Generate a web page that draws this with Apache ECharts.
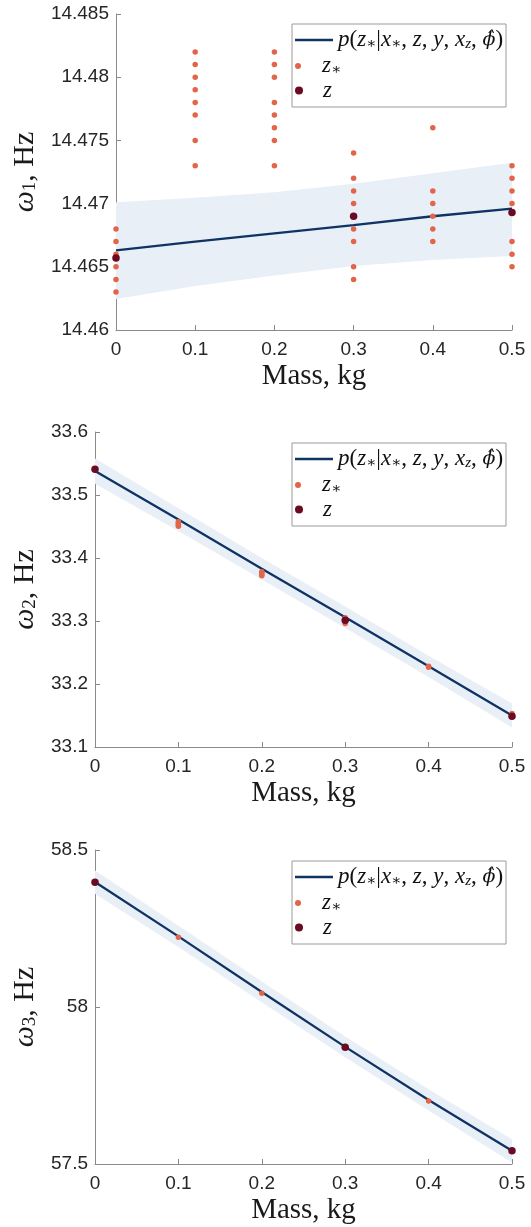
<!DOCTYPE html>
<html>
<head>
<meta charset="utf-8">
<script src="https://cdn.jsdelivr.net/npm/echarts@6/dist/echarts.min.js"></script>
<style>
html, body { margin: 0; padding: 0; background: #fff; }
#chart { width: 531px; height: 1227px; }
</style>
</head>
<body>
<div id="chart"></div>
<script>
// Added mass (kg) at which each natural frequency was evaluated
const massTicks = [0, 0.1, 0.2, 0.3, 0.4, 0.5];
const measuredMass = [0, 0.3, 0.5];

// Mode 1: predictive mean, confidence band, sampled and measured frequencies
const w1Range = [14.46, 14.485];
const w1Step = 0.005;
const w1Mean  = [14.4663, 14.4670, 14.46765, 14.4683, 14.4690, 14.4696];
const w1Upper = [14.4701, 14.47047, 14.4709, 14.47158, 14.4724, 14.47324];
const w1Lower = [14.46245, 14.46348, 14.46432, 14.46506, 14.46554, 14.46585];
const w1Samples = [
  [14.468, 14.467, 14.466, 14.465, 14.464, 14.463],
  [14.482, 14.481, 14.480, 14.479, 14.478, 14.477, 14.475, 14.473],
  [14.482, 14.481, 14.480, 14.478, 14.477, 14.476, 14.475, 14.473],
  [14.474, 14.472, 14.471, 14.470, 14.468, 14.467, 14.465, 14.464],
  [14.476, 14.471, 14.470, 14.469, 14.468, 14.467],
  [14.473, 14.472, 14.471, 14.470, 14.467, 14.466, 14.465]
];
const w1Measured = [14.4657, 14.4690, 14.4693];

// Mode 2
const w2Range = [33.1, 33.6];
const w2Step = 0.1;
const w2Mean  = [33.538, 33.461, 33.383, 33.306, 33.228, 33.150];
const w2Upper = [33.558, 33.479, 33.400, 33.323, 33.245, 33.169];
const w2Lower = [33.518, 33.443, 33.366, 33.289, 33.211, 33.131];
const w2Samples = [
  [],
  [33.4505, 33.452, 33.454, 33.456, 33.4575],
  [33.372, 33.374, 33.376, 33.378],
  [33.296, 33.299, 33.302, 33.305],
  [33.2265, 33.228],
  [33.150, 33.153]
];
const w2Measured = [33.541, 33.301, 33.149];

// Mode 3
const w3Range = [57.5, 58.5];
const w3Step = 0.5;
const w3Mean  = [58.398, 58.225, 58.048, 57.873, 57.704, 57.542];
const w3Upper = [58.435, 58.259, 58.081, 57.906, 57.738, 57.579];
const w3Lower = [58.361, 58.191, 58.015, 57.840, 57.670, 57.505];
const w3Samples = [[], [58.222], [58.044], [], [57.701], []];
const w3Measured = [58.397, 57.872, 57.542];

const SERIF = '"Liberation Serif", "DejaVu Serif", serif';
const SANS = '"Liberation Sans", Arial, sans-serif';
const C_LINE = '#0f3363';
const C_BAND = '#e8eff7';
const C_SAMPLE = '#e2654a';
const C_MEAS = '#6b0a20';
const C_AXIS = '#8a8a8a';
const C_TEXT = '#262626';

const panels = [
  { mean: w1Mean, upper: w1Upper, lower: w1Lower, samples: w1Samples, measured: w1Measured,
    range: w1Range, step: w1Step, dec: 3, sub: '1',
    grid: { left: 116, top: 14, width: 396, height: 316 }, yNameGap: 73, boxTop: 24 },
  { mean: w2Mean, upper: w2Upper, lower: w2Lower, samples: w2Samples, measured: w2Measured,
    range: w2Range, step: w2Step, dec: 1, sub: '2',
    grid: { left: 95, top: 432, width: 417, height: 315 }, yNameGap: 52, boxTop: 443 },
  { mean: w3Mean, upper: w3Upper, lower: w3Lower, samples: w3Samples, measured: w3Measured,
    range: w3Range, step: w3Step, dec: 1, sub: '3',
    grid: { left: 95, top: 850, width: 417, height: 314 }, yNameGap: 52, boxTop: 861 }
];

const mathRich = {
  i: { fontFamily: SERIF, fontStyle: 'italic', fontSize: 23, color: '#111', lineHeight: 26 },
  n: { fontFamily: SERIF, fontSize: 23, color: '#111', lineHeight: 26 },
  h: { fontFamily: '"DejaVu Serif", serif', fontStyle: 'italic', fontSize: 19, color: '#111', lineHeight: 26 },
  s: { fontFamily: SERIF, fontStyle: 'italic', fontSize: 15, color: '#111', padding: [9, 0, 0, 0], lineHeight: 16 }
};
const legendText = {
  predictive: '{i|p}{n|(}{i|z}{s|∗}{n||}{i|x}{s|∗}{n|, }{i|z}{n|, }{i|y}{n|, }{i|x}{s|z}{n|, }{h|ϕ̂}{n|)}',
  samples: '{i|z}{s|∗}',
  measured: '{i|z}'
};

const option = {
  animation: false,
  backgroundColor: '#fff',
  grid: [], xAxis: [], yAxis: [], series: [], legend: [],
  graphic: { elements: [] }
};

panels.forEach((p, gi) => {
  option.grid.push(Object.assign({ containLabel: false }, p.grid));

  option.xAxis.push({
    gridIndex: gi, type: 'value', min: 0, max: 0.5, interval: 0.1,
    axisLine: { show: true, lineStyle: { color: C_AXIS, width: 1 } },
    axisTick: { show: true, inside: true, length: 5, lineStyle: { color: C_AXIS } },
    splitLine: { show: false },
    axisLabel: { fontFamily: SANS, fontSize: 19, color: C_TEXT, margin: 10,
      formatter: v => String(+v.toFixed(1)) },
    name: 'Mass, kg', nameLocation: 'middle', nameGap: 32,
    nameTextStyle: { fontFamily: SERIF, fontSize: 29, color: '#1a1a1a' }
  });

  option.yAxis.push({
    gridIndex: gi, type: 'value', min: p.range[0], max: p.range[1], interval: p.step,
    axisLine: { show: true, lineStyle: { color: C_AXIS, width: 1 } },
    axisTick: { show: true, inside: true, length: 5, lineStyle: { color: C_AXIS } },
    splitLine: { show: false },
    axisLabel: { fontFamily: SANS, fontSize: 19, color: C_TEXT, margin: 7,
      formatter: v => String(+v.toFixed(p.dec)) },
    name: '{w|ω}{s|' + p.sub + '}{n|, Hz}', nameLocation: 'middle', nameRotate: 90, nameGap: p.yNameGap,
    nameTextStyle: {
      rich: {
        w: { fontFamily: SERIF, fontStyle: 'italic', fontSize: 30, color: '#1a1a1a', lineHeight: 30 },
        s: { fontFamily: SERIF, fontSize: 19, color: '#1a1a1a', padding: [10, 0, 0, 0], lineHeight: 20 },
        n: { fontFamily: SERIF, fontSize: 30, color: '#1a1a1a', lineHeight: 30 }
      }
    }
  });

  // confidence band around the predictive mean
  option.series.push({
    type: 'custom', xAxisIndex: gi, yAxisIndex: gi, silent: true, z: 1,
    data: [[massTicks[0], p.mean[0]]],
    renderItem: (params, api) => {
      const top = massTicks.map((m, k) => api.coord([m, p.upper[k]]));
      const bottom = massTicks.map((m, k) => api.coord([m, p.lower[k]])).reverse();
      return { type: 'polygon', shape: { points: top.concat(bottom) }, style: { fill: C_BAND } };
    }
  });

  option.series.push({
    name: 'predictive', type: 'line', xAxisIndex: gi, yAxisIndex: gi, z: 2,
    symbol: 'none', data: massTicks.map((m, k) => [m, p.mean[k]]),
    lineStyle: { color: C_LINE, width: 2.3 }, itemStyle: { color: C_LINE }
  });

  option.series.push({
    name: 'samples', type: 'scatter', xAxisIndex: gi, yAxisIndex: gi, z: 3,
    symbolSize: 5.5,
    data: p.samples.flatMap((list, k) => list.map(v => [massTicks[k], v])),
    itemStyle: { color: C_SAMPLE, opacity: 1 }
  });

  option.series.push({
    name: 'measured', type: 'scatter', xAxisIndex: gi, yAxisIndex: gi, z: 4,
    symbolSize: 7.5,
    data: measuredMass.map((m, k) => [m, p.measured[k]]),
    itemStyle: { color: C_MEAS, opacity: 1 }
  });

  // legend frame and its three rows
  option.graphic.elements.push({
    type: 'rect', z: 3, silent: true,
    shape: { x: 292, y: p.boxTop, width: 214, height: 83 },
    style: { fill: '#fff', stroke: '#9a9a9a', lineWidth: 1 }
  });
  const rows = [
    { name: 'predictive', off: 17, h: 2.5, icon: 'rect' },
    { name: 'samples', off: 43, h: 6, icon: 'circle' },
    { name: 'measured', off: 68, h: 8, icon: 'circle' }
  ];
  rows.forEach(r => {
    option.legend.push({
      data: [{ name: r.name, icon: r.icon }], left: 295, top: p.boxTop + r.off - 13, padding: 0,
      orient: 'vertical', itemWidth: 38, itemHeight: r.h, selectedMode: false, z: 4,
      formatter: n => legendText[n],
      textStyle: { rich: mathRich }
    });
  });
});

const chart = echarts.init(document.getElementById('chart'), null, { renderer: 'canvas' });
chart.setOption(option);
</script>
</body>
</html>
